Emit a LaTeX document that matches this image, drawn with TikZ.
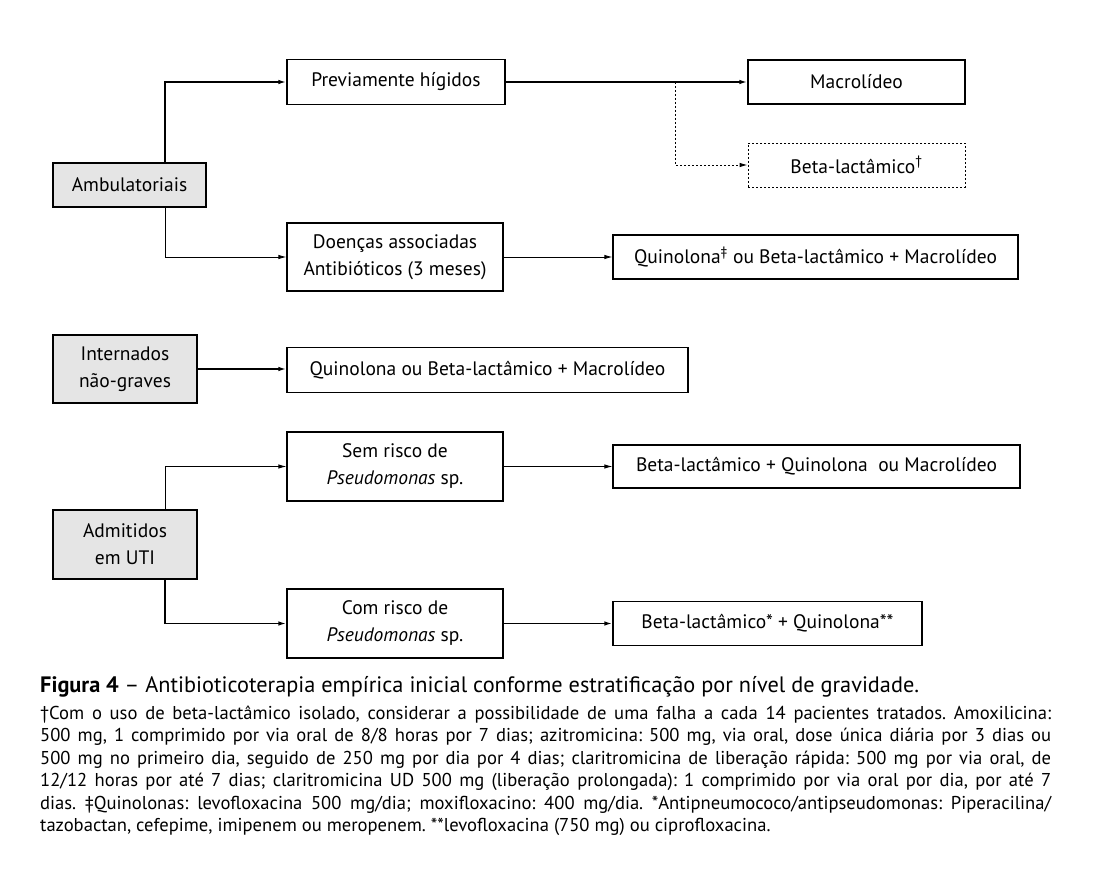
\documentclass[tikz,border=0pt]{standalone}
\usepackage{fontspec}
\setmainfont{PT Sans}
\usetikzlibrary{arrows.meta}
\definecolor{boxgray}{gray}{0.9}
\frenchspacing
\begin{document}
\begin{tikzpicture}[x=1pt,y=-1pt,
  box/.style={draw, line width=1.2pt, rectangle, inner sep=0pt, align=center,
    font=\fontsize{19.5}{27}\selectfont},
  gbox/.style={box, fill=boxgray},
  dbox/.style={box, line width=0.9pt, dash pattern=on 2pt off 2pt},
  tip/.style={-{Latex[length=8pt,width=4.5pt]}},
  thinline/.style={tip, line width=0.9pt},
  thickline/.style={tip, line width=1.8pt},
  dotline/.style={tip, line width=0.9pt, dash pattern=on 2pt off 2pt},
]
\useasboundingbox (0,0) rectangle (1109,885);

% left column
\node[gbox, minimum width=153pt, minimum height=44pt] (amb) at (129.5,185) {Ambulatoriais};
\node[gbox, minimum width=144pt, minimum height=68pt] (int) at (125,369) {Internados\\não-graves};
\node[gbox, minimum width=144pt, minimum height=69pt] (adm) at (125,544.5) {Admitidos\\em UTI};

% middle column
\node[box, minimum width=218pt, minimum height=45pt] (prev) at (396,82) {Previamente hígidos};
\node[box, minimum width=216pt, minimum height=68pt] (doe) at (395,257) {Doenças associadas\\Antibióticos (3 meses)};
\node[box, minimum width=401pt, minimum height=45pt] (q2) at (487.5,370) {Quinolona ou Beta-lactâmico + Macrolídeo};
\node[box, minimum width=216pt, minimum height=69pt] (sem) at (395,466.5) {Sem risco de\\\textit{Pseudomonas} sp.};
\node[box, minimum width=216pt, minimum height=69pt] (com) at (395,623.5) {Com risco de\\\textit{Pseudomonas} sp.};

% right column
\node[box, minimum width=217pt, minimum height=44pt] (mac) at (856.5,82) {Macrolídeo};
\node[dbox, minimum width=217pt, minimum height=44pt] (beta) at (856.5,165) {Beta-lactâmico\textsuperscript{†}};
\node[box, minimum width=405pt, minimum height=44pt] (q1) at (815.5,257) {Quinolona\textsuperscript{‡} ou Beta-lactâmico + Macrolídeo};
\node[box, minimum width=407pt, minimum height=43pt] (b1) at (816.5,466.5) {Beta-lactâmico + Quinolona\ \ ou Macrolídeo};
\node[box, minimum width=309pt, minimum height=44pt] (b2) at (767.5,623.5) {Beta-lactâmico* + Quinolona**};

% junction coordinates
\coordinate (jx) at (165,0);
\coordinate (dj) at (675,82);

% connectors
\draw[thickline] (jx |- amb.north) |- (prev.west);
\draw[thinline] (jx |- amb.south) |- (doe.west);
\draw[thickline] (prev.east) -- (mac.west);
\draw[dotline] (dj) |- (beta.west);
\draw[thinline] (doe.east) -- (q1.west);
\draw[thickline] (int.east) -- (q2.west |- int.east);
\draw[thinline] (jx |- adm.north) |- (sem.west);
\draw[thickline] (jx |- adm.south) |- (com.west);
\draw[thinline] (sem.east) -- (b1.west);
\draw[thickline] (com.east) -- (b2.west);

% caption
\node[anchor=base west, inner sep=0pt, font=\fontsize{22.3}{24}\selectfont] (title) at (40,692)
  {\textbf{Figura 4} – Antibioticoterapia empírica inicial conforme estratificação por nível de gravidade.};
\node[anchor=base west, inner sep=0pt, text width=1011pt, align=justify,
  font=\fontsize{18.6}{22.5}\selectfont] (notes) at (40,719)
  {†Com o uso de beta-lactâmico isolado, considerar a possibilidade de uma falha a cada 14 pacientes tratados. Amoxilicina:\linebreak
  500 mg, 1 comprimido por via oral de 8/8 horas por 7 dias; azitromicina: 500 mg, via oral, dose única diária por 3 dias ou\linebreak
  500 mg no primeiro dia, seguido de 250 mg por dia por 4 dias; claritromicina de liberação rápida: 500 mg por via oral, de\linebreak
  12/12 horas por até 7 dias; claritromicina UD 500 mg (liberação prolongada): 1 comprimido por via oral por dia, por até 7\linebreak
  dias. ‡Quinolonas: levofloxacina 500 mg/dia; moxifloxacino: 400 mg/dia. *Antipneumococo/antipseudomonas: Piperacilina/\linebreak
  tazobactan, cefepime, imipenem ou meropenem. **levofloxacina (750 mg) ou ciprofloxacina.};
\end{tikzpicture}
\end{document}
